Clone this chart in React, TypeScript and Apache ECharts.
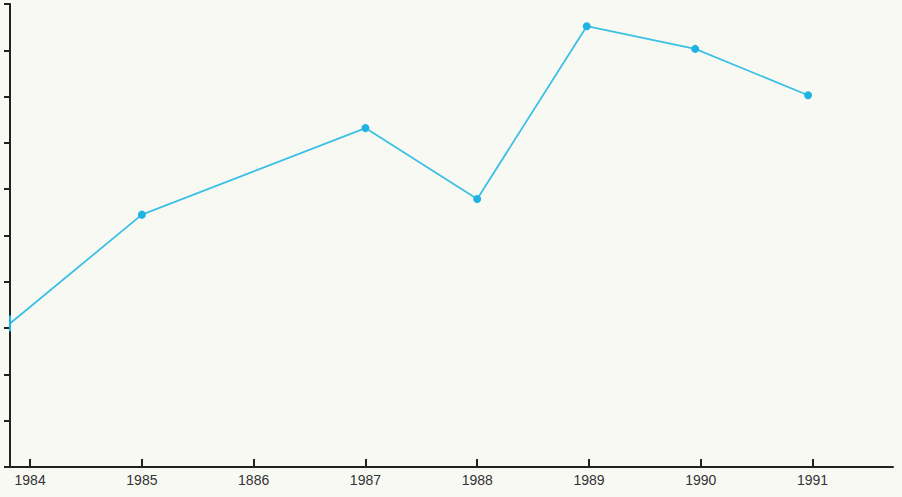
import React, { useEffect, useRef } from "react";
import * as echarts from "echarts";

const years = [1984, 1985, 1986, 1987, 1988, 1989, 1990, 1991];
const yearLabels = ["1984", "1985", "1886", "1987", "1988", "1989", "1990", "1991"];
// x position of each point (first point sits on the vertical axis)
const pointX = [1983.82, 1985, 1987, 1988, 1988.98, 1989.95, 1990.96];
const pointY = [3.1, 5.45, 7.32, 5.79, 9.52, 9.03, 8.03];

const X_MIN = 1983.82;
const X_MAX = 1991.72;

export default function App() {
  const ref = useRef<HTMLDivElement>(null);
  useEffect(() => {
    const chart = echarts.init(ref.current!, null, { renderer: "svg" });
    const labelMap: Record<number, string> = {};
    years.forEach((y, i) => (labelMap[y] = yearLabels[i]));
    chart.setOption({
      animation: false,
      backgroundColor: "#f9f9f4",
      grid: { left: 10, right: 9, top: 4, bottom: 30 },
      xAxis: {
        type: "value",
        min: X_MIN,
        max: X_MAX,
        splitLine: { show: false },
        axisLine: { lineStyle: { color: "#222", width: 2 } },
        axisTick: {
          show: true,
          inside: true,
          length: 8,
          customValues: years,
          lineStyle: { color: "#222", width: 2 },
        },
        axisLabel: {
          show: true,
          customValues: years,
          formatter: (v: number) => labelMap[Math.round(v)] ?? "",
          color: "#333",
          fontSize: 14,
          fontFamily: "Liberation Sans, Arial, sans-serif",
          margin: 6,
        },
      },
      yAxis: {
        type: "value",
        min: 0,
        max: 10,
        interval: 1,
        splitLine: { show: false },
        axisLine: { show: true, lineStyle: { color: "#222", width: 2 } },
        axisTick: { show: true, length: 6, lineStyle: { color: "#222", width: 2 } },
        axisLabel: { show: false },
      },
      series: [
        {
          type: "line",
          data: pointX.map((x, i) =>
            i === 0
              ? { value: [x, pointY[i]], symbol: "rect", symbolSize: [2, 16] }
              : [x, pointY[i]]
          ),
          symbol: "circle",
          symbolSize: 8,
          showSymbol: true,
          itemStyle: { color: "#1fb3e3", borderWidth: 0 },
          lineStyle: { color: "#3cc0e6", width: 1.8 },
        },
      ],
    });
    return () => chart.dispose();
  }, []);
  return (
    <div
      ref={ref}
      style={{ position: "absolute", left: 0, top: 0, width: 902, height: 497 }}
    />
  );
}
